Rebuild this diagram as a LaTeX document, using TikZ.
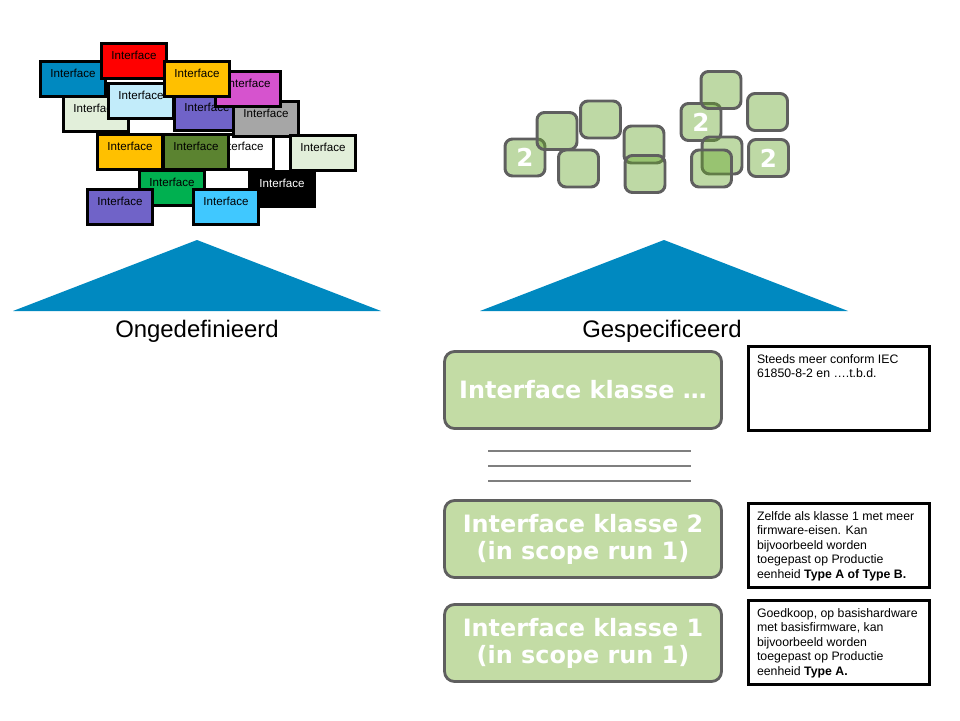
\documentclass[tikz,border=0pt]{standalone}
\usepackage{fontspec}
\setmainfont{Liberation Sans}
\newfontfamily\klassefont{DejaVu Sans}
\usetikzlibrary{positioning}
\definecolor{ifblue}{RGB}{0,137,192}
\definecolor{ifred}{RGB}{255,0,0}
\definecolor{iflgreen}{RGB}{226,239,218}
\definecolor{iflblue}{RGB}{194,236,250}
\definecolor{ifyellow}{RGB}{255,192,0}
\definecolor{ifmagenta}{RGB}{214,83,206}
\definecolor{ifpurple}{RGB}{112,99,200}
\definecolor{ifgray}{RGB}{166,166,166}
\definecolor{ifolive}{RGB}{91,131,48}
\definecolor{ifgreen}{RGB}{0,176,80}
\definecolor{ifsky}{RGB}{64,200,255}
\definecolor{klgreen}{RGB}{195,220,165}
\definecolor{klgray}{RGB}{95,95,95}
\definecolor{sqgreen}{RGB}{100,165,40}
\definecolor{linegray}{RGB}{127,127,127}
\newcommand{\notetext}[1]{\parbox[c][1.36cm][t]{3.28cm}{\raggedright #1}}

\begin{document}
\begin{tikzpicture}[x=0.02cm,y=-0.02cm]
  \tikzstyle{ibox}=[draw=black,line width=1.9pt,minimum width=1.29cm,minimum height=0.69cm,
    inner sep=0pt,text depth=7pt,font=\fontsize{6.6}{7}\selectfont]
  \tikzstyle{sq}=[draw=klgray,line width=1.7pt,rounded corners=0.15cm,fill=sqgreen,fill opacity=0.42,
    text opacity=1,minimum width=0.8cm,minimum height=0.74cm,text=white,font=\klassefont\bfseries\fontsize{14}{14}\selectfont]
  \tikzstyle{lbl}=[font=\fontsize{13.6}{16}\selectfont]
  \tikzstyle{klasse}=[draw=klgray,line width=1.6pt,rounded corners=0.2cm,fill=klgreen,
    minimum width=5.54cm,minimum height=1.54cm,align=center,text=white,font=\klassefont\bfseries\fontsize{13.6}{15.3}\selectfont]
  \tikzstyle{note}=[draw=black,line width=1.6pt,inner xsep=0.17cm,inner ysep=0.16cm,font=\fontsize{7}{8.2}\selectfont]
  \tikzstyle{sep}=[draw=linegray,line width=1.5pt]
  \useasboundingbox (0,0) rectangle (960,720);

  % ongedefinieerd: losse interfaces
  \node[ibox,fill=ifblue] (iblue) at (73,79) {Interface};
  \node[ibox,fill=ifred] (ired) at (134,61) {Interface};
  \node[ibox,fill=iflgreen] (ilgreen) at (96,114) {Interface};
  \node[ibox,fill=white] (iwhite) at (241,152) {Interface};
  \node[ibox,fill=ifpurple] (ipurple) at (207,113) {Interface};
  \node[ibox,fill=ifgray] (igray) at (266,119) {Interface};
  \node[ibox,fill=iflblue] (ilblue) at (141,101) {Interface};
  \node[ibox,fill=ifmagenta] (imagenta) at (248,89) {Interface};
  \node[ibox,fill=ifyellow] (iyellow) at (197,79) {Interface};
  \node[ibox,fill=ifyellow] (iorange) at (130,152) {Interface};
  \node[ibox,fill=ifolive] (iolive) at (196,152) {Interface};
  \node[ibox,fill=iflgreen] (ilgreenb) at (323,153) {Interface};
  \node[ibox,fill=ifgreen] (igreen) at (172,188) {Interface};
  \node[ibox,fill=black,text=white] (iblack) at (282,189) {Interface};
  \node[ibox,fill=ifpurple] (ipurpleb) at (120,207) {Interface};
  \node[ibox,fill=ifsky] (isky) at (226,207) {Interface};

  % gespecificeerd: blokken
  \node[sq] (sa) at (525,157.5) {2};
  \node[sq] (sb) at (557,131) {};
  \node[sq] (sc) at (600.5,119.5) {};
  \node[sq] (sd) at (578.5,168.5) {};
  \node[sq] (se) at (644,144.5) {};
  \node[sq] (sf) at (645,174) {};
  \node[sq] (sg) at (701,122) {2};
  \node[sq] (sh) at (721,90) {};
  \node[sq] (si) at (767.5,112) {};
  \node[sq] (sj) at (722,155.5) {};
  \node[sq] (sk) at (711.5,168.5) {};
  \node[sq] (sl) at (768.5,158) {2};

  \fill[ifblue] (13,311) -- (197,240) -- (381,311) -- cycle;
  \fill[ifblue] (480,311) -- (664,240) -- (848,311) -- cycle;
  \node[lbl] (undef) at (197,331) {Ongedefinieerd};
  \node[lbl] (spec) at (662,331) {Gespecificeerd};

  % klassen
  \node[klasse] (kdots) at (583,390) {Interface klasse \dots};
  \node[klasse] (ktwo) at (583,539) {Interface klasse 2\\(in scope run 1)};
  \node[klasse] (kone) at (583,643) {Interface klasse 1\\(in scope run 1)};
  \foreach \y in {451,466,481}
    \draw[sep] (488,\y) -- (691,\y);

  \node[note] (ndots) at (839,388.5) {\notetext{Steeds meer conform IEC\\61850-8-2 en ….t.b.d.}};
  \node[note] (ntwo) at (839,545.5) {\notetext{Zelfde als klasse 1 met meer\\firmware-eisen. Kan\\bijvoorbeeld worden\\toegepast op Productie\\eenheid \textbf{Type A of Type B.}}};
  \node[note] (none) at (839,642.5) {\notetext{Goedkoop, op basishardware\\met basisfirmware, kan\\bijvoorbeeld worden\\toegepast op Productie\\eenheid \textbf{Type A.}}};
\end{tikzpicture}
\end{document}
